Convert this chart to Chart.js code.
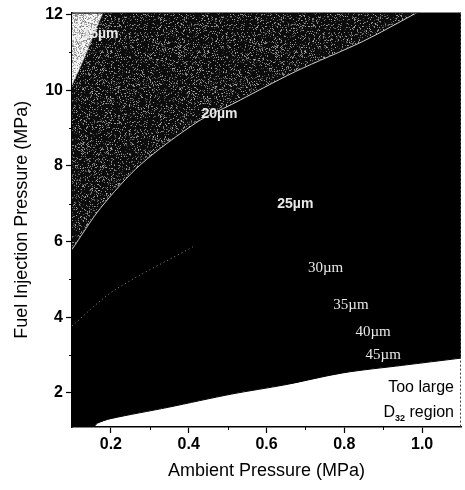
<!DOCTYPE html>
<html><head><meta charset="utf-8">
<script src="https://cdn.jsdelivr.net/npm/chart.js@4.4.0/dist/chart.umd.min.js"></script>
<style>html,body{margin:0;padding:0;background:#fff}#wrap{width:465px;height:490px}</style>
</head><body><div id="wrap"><canvas id="c" width="465" height="490"></canvas></div>
<script>
// ---- axis ranges & ticks ----
const xMin = 0.1, xMax = 1.1, yMin = 1.1, yMax = 12.05;
const xTicksMajor = [0.2, 0.4, 0.6, 0.8, 1.0];
const xTicksMinor = [0.3, 0.5, 0.7, 0.9];
const yTicksMajor = [2, 4, 6, 8, 10, 12];
const yTicksMinor = [3, 5, 7, 9, 11];
// ---- contour boundaries ----
const c15X = [0.1, 0.125, 0.149, 0.165, 0.182];
const c15Y = [10.15, 10.7, 11.3, 11.7, 12.1];
const c20X = [0.1, 0.173, 0.277, 0.425, 0.51, 0.674, 0.85, 0.996];
const c20Y = [5.79, 6.88, 8.04, 9.18, 9.62, 10.49, 11.3, 12.1];
const c25X = [0.1, 0.207, 0.414];
const c25Y = [3.77, 4.7, 5.88];
const limX = [0.1, 0.155, 0.165, 0.199, 0.347, 0.51, 0.65, 0.796, 0.95, 1.1];
const limY = [1.1, 1.1, 1.2, 1.32, 1.62, 1.97, 2.22, 2.53, 2.73, 2.92];
// ---- labels ----
const contourLabels = ['15µm', '20µm', '25µm', '30µm', '35µm', '40µm', '45µm'];
const contourLabelX = [0.2195, 0.479, 0.674, 0.752, 0.817, 0.874, 0.9];
const contourLabelY = [11.49, 9.36, 6.99, 5.31, 4.31, 3.6, 3.0];
const regionLabelX = 1.082;
const regionLabelY = [2.15, 1.49];

const zip = (xs, ys) => xs.map((x, i) => ({x, y: ys[i]}));

function hash(x, y) {
  let h = (Math.imul(x, 374761393) + Math.imul(y, 668265263)) | 0;
  h = Math.imul(h ^ (h >>> 13), 1274126177);
  h = h ^ (h >>> 16);
  return (h >>> 0) / 4294967296;
}
function speckle(base, prob, lo, hi, seed) {
  const cv = document.createElement('canvas');
  cv.width = 97; cv.height = 97;
  const g = cv.getContext('2d');
  const img = g.createImageData(97, 97);
  for (let y = 0; y < 97; y++) for (let x = 0; x < 97; x++) {
    const r = hash(x + seed, y);
    let v = base;
    if (r < prob) v = lo + (hi - lo) * hash(y + seed, x + 7);
    const i = (y * 97 + x) * 4;
    img.data[i] = img.data[i+1] = img.data[i+2] = v; img.data[i+3] = 255;
  }
  g.putImageData(img, 0, 0);
  return g.createPattern(cv, 'repeat');
}
const darkPat = speckle(12, 0.2, 55, 175, 11);
const lightPat = speckle(245, 0.42, 120, 205, 3);

const FONT = '"Liberation Sans", Arial, sans-serif';
const overlay = {
  id: 'overlay',
  afterDraw(chart) {
    const {ctx, chartArea: a, scales: {x, y}} = chart;
    ctx.save();
    // frame top/right
    ctx.strokeStyle = '#000'; ctx.lineWidth = 1;
    ctx.beginPath(); ctx.moveTo(a.left, a.top + 0.5); ctx.lineTo(a.right, a.top + 0.5); ctx.stroke();
    ctx.setLineDash([2, 2]); ctx.strokeStyle = '#444';
    ctx.beginPath(); ctx.moveTo(a.right - 0.5, a.top); ctx.lineTo(a.right - 0.5, a.bottom); ctx.stroke();
    ctx.setLineDash([]); ctx.strokeStyle = '#000';
    // minor ticks
    ctx.beginPath();
    xTicksMinor.forEach(v => { const px = Math.round(x.getPixelForValue(v)) + 0.5; ctx.moveTo(px, a.bottom); ctx.lineTo(px, a.bottom + 3); });
    yTicksMinor.forEach(v => { const py = Math.round(y.getPixelForValue(v)) + 0.5; ctx.moveTo(a.left - 3, py); ctx.lineTo(a.left, py); });
    ctx.stroke();
    // contour labels
    ctx.fillStyle = '#e8e8e8'; ctx.textBaseline = 'middle';
    contourLabels.forEach((t, i) => {
      ctx.font = i < 3 ? 'bold 14px ' + FONT : '15px "Liberation Serif", "Times New Roman", serif';
      ctx.textAlign = i === 0 ? 'right' : 'center';
      ctx.fillText(t, x.getPixelForValue(contourLabelX[i]), y.getPixelForValue(contourLabelY[i]));
    });
    // region labels
    ctx.fillStyle = '#000';
    const rx = x.getPixelForValue(regionLabelX);
    ctx.font = '16px ' + FONT;
    ctx.textAlign = 'right';
    ctx.fillText('Too large', rx, y.getPixelForValue(regionLabelY[0]));
    const py = y.getPixelForValue(regionLabelY[1]);
    const wRegion = ctx.measureText(' region').width;
    ctx.font = 'bold 9px ' + FONT;
    const wSub = ctx.measureText('32').width;
    ctx.font = '16px ' + FONT;
    const wD = ctx.measureText('D').width;
    ctx.textAlign = 'left';
    const sx = rx - wRegion - wSub - wD;
    ctx.fillText('D', sx, py);
    ctx.fillText(' region', sx + wD + wSub, py);
    ctx.font = 'bold 9px ' + FONT;
    ctx.fillText('32', sx + wD, py + 6);
    ctx.restore();
  }
};

const common = {pointRadius: 0, tension: 0.3, showLine: true};
new Chart(document.getElementById('c'), {
  type: 'line',
  data: {datasets: [
    {...common, data: zip(c25X, c25Y), fill: false, borderColor: '#8a8a8a', borderWidth: 1, borderDash: [1, 3], order: 0},
    {...common, data: zip(c15X, c15Y), fill: 'end', backgroundColor: lightPat, borderColor: '#ddd', borderWidth: 0.5, order: 1},
    {...common, data: zip(c20X, c20Y), fill: 'end', backgroundColor: darkPat, borderColor: '#c8c8c8', borderWidth: 1, order: 2},
    {...common, data: zip(limX, limY), fill: 'end', backgroundColor: '#000', borderColor: '#000', borderWidth: 1, order: 3}
  ]},
  options: {
    responsive: false, animation: false, devicePixelRatio: 1,
    layout: {padding: {top: 10, right: 4, left: 0, bottom: 0}},
    plugins: {legend: {display: false}, tooltip: {enabled: false}},
    scales: {
      x: {
        type: 'linear', min: xMin, max: xMax,
        afterBuildTicks: s => { s.ticks = xTicksMajor.map(v => ({value: v})); },
        afterFit: s => { s.height = 63; },
        ticks: {callback: v => Number(v).toFixed(1), color: '#000', padding: 2, maxRotation: 0, autoSkip: false,
                font: {family: FONT, size: 16, weight: 'bold'}},
        grid: {drawOnChartArea: false, tickLength: 6, color: '#000', tickWidth: 1.2},
        border: {color: '#000', width: 1.5},
        title: {display: true, text: 'Ambient Pressure (MPa)', color: '#000', padding: {top: 0, bottom: 8},
                font: {family: FONT, size: 18}}
      },
      y: {
        type: 'linear', min: yMin, max: yMax,
        afterBuildTicks: s => { s.ticks = yTicksMajor.map(v => ({value: v})); },
        afterFit: s => { s.width = 72; },
        ticks: {callback: v => String(v), color: '#000', padding: 3, autoSkip: false,
                font: {family: FONT, size: 16, weight: 'bold'}},
        grid: {drawOnChartArea: false, tickLength: 6, color: '#000', tickWidth: 1.2},
        border: {color: '#000', width: 1.5},
        title: {display: true, text: 'Fuel Injection Pressure (MPa)', color: '#000', padding: {top: 11, bottom: 0},
                font: {family: FONT, size: 18}}
      }
    }
  },
  plugins: [overlay]
});
</script></body></html>
